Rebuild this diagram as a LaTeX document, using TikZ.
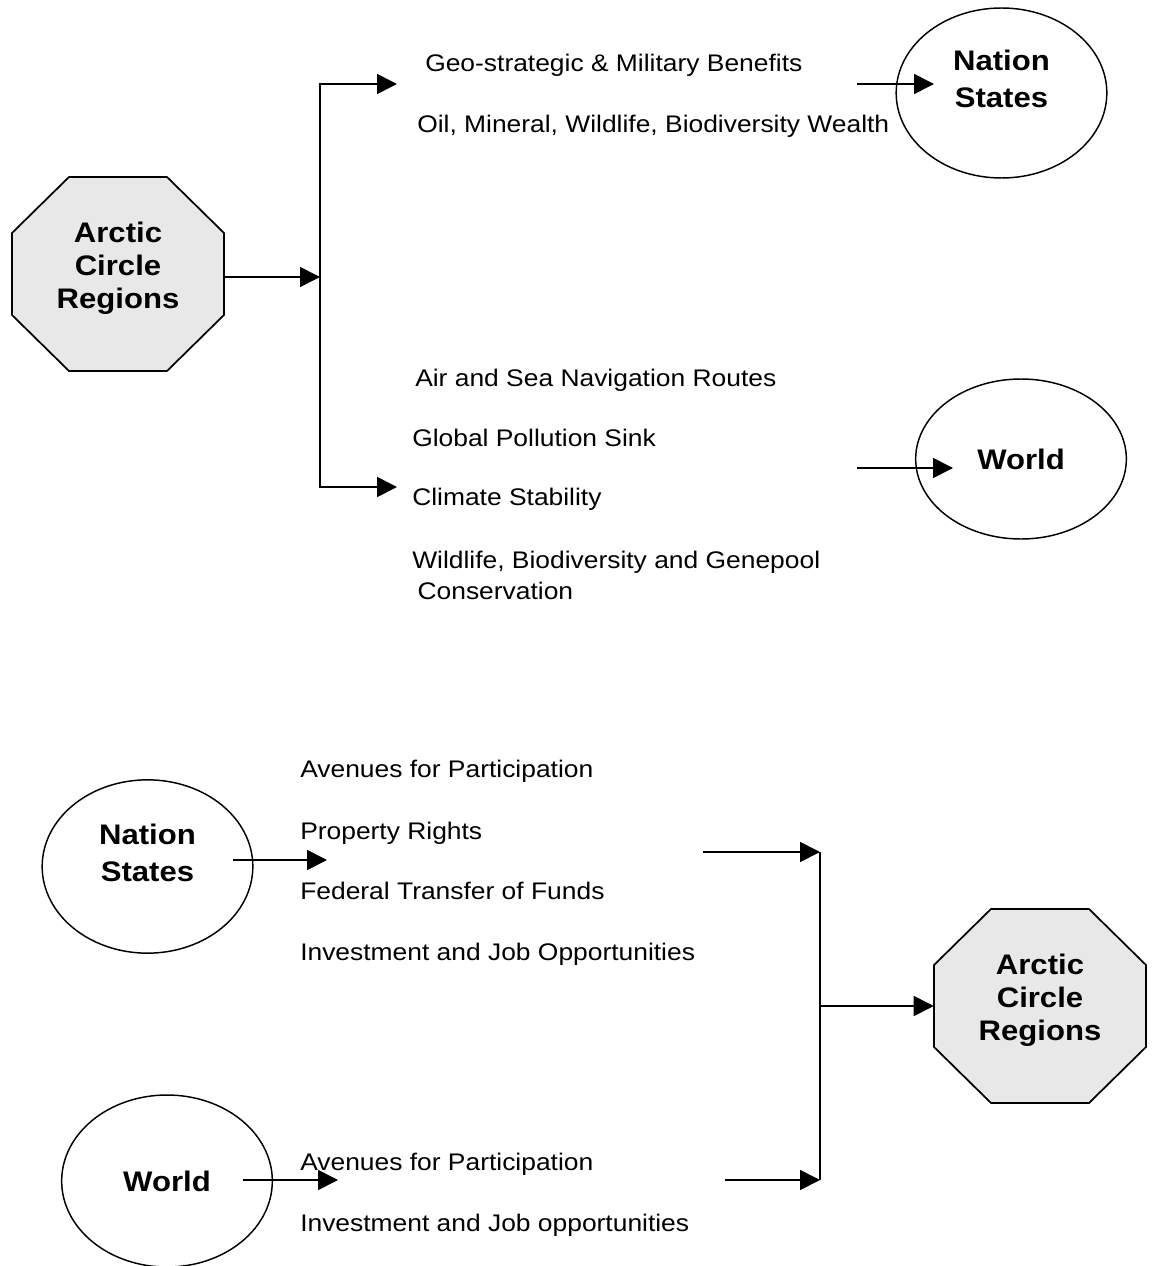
\documentclass[tikz,border=0pt]{standalone}
\usepackage{fontspec}
\setmainfont{Liberation Sans}[FakeStretch=1.1]
\usetikzlibrary{arrows.meta,shapes.geometric,backgrounds}
\definecolor{octgray}{RGB}{232,232,232}
\begin{document}
\begin{tikzpicture}[x=0.75pt,y=-0.75pt,
  conn/.style={line width=1.3pt},
  arr/.style={conn,-{Triangle[length=15pt,width=15pt]}},
  both/.style={conn,{Triangle[length=15pt,width=15pt]}-{Triangle[length=15pt,width=15pt]}},
  item/.style={anchor=base west,inner sep=0pt,font=\fontsize{18}{23.25}\selectfont},
  ttl/.style={align=center,inner sep=0pt,font=\fontsize{21.2}{27.75}\selectfont\bfseries},
  ell/.style={ttl,draw,ellipse,line width=1.1pt,minimum width=158pt},
  octnode/.style={ttl,rectangle,minimum width=159pt,minimum height=146pt,font=\fontsize{21.2}{24.75}\selectfont\bfseries},
  octfill/.style={draw,fill=octgray,line width=1.3pt},
]
\useasboundingbox (0,0) rectangle (1158,1266);

% ---------- top part ----------
\node[octnode] (oct1) at (118,274) {Arctic\\Circle\\Regions\rule[-13.5pt]{0pt}{0pt}};
\begin{scope}[on background layer]
\draw[octfill, shift={(oct1.center)}] (-49,-97) -- (49,-97) -- (106,-41) -- (106,41) -- (49,97) -- (-49,97) -- (-106,41) -- (-106,-41) -- cycle;
\end{scope}

\node[item] (g1) at (425,72) {Geo-strategic \& Military Benefits};
\node[item] (g2) at (417,133) {Oil, Mineral, Wildlife, Biodiversity Wealth};
\node[item] (w1) at (415,386) {Air and Sea Navigation Routes};
\node[item] (w2) at (412,446) {Global Pollution Sink};
\node[item] (w3) at (412,505) {Climate Stability};
\node[item,align=left,anchor=north west] (w4) at (412,551) {Wildlife, Biodiversity and Genepool\\\hspace*{4pt}Conservation};

\node[ell,minimum height=127.5pt] (ns1) at (1001.5,93) {Nation\\States\rule[-21.8pt]{0pt}{0pt}};
\node[ell,minimum height=120pt] (wd1) at (1021,459) {World};

\coordinate (j1) at (320,277);
\coordinate (t1) at (397,84);
\coordinate (t2) at (397,487);
\draw[arr] (j1 -| oct1.east) -- (j1);
\draw[both] (t1) -| (j1) |- (t2);

\coordinate (a1s) at (857,84);
\coordinate (a1e) at (934,84);
\draw[arr] (a1s) -- (a1e);
\coordinate (a2s) at (857,468);
\coordinate (a2e) at (953,468);
\draw[arr] (a2s) -- (a2e);

% ---------- bottom part ----------
\node[ell,minimum height=130pt] (ns2) at (147.5,866.5) {Nation\\States\rule[-21pt]{0pt}{0pt}};
\node[ell,minimum height=129pt] (wd2) at (167,1181) {World};

\node[item] (p1) at (300,777) {Avenues for Participation};
\node[item] (p2) at (300,839) {Property Rights};
\node[item] (p3) at (300,899) {Federal Transfer of Funds};
\node[item] (p4) at (300,960) {Investment and Job Opportunities};
\node[item] (q1) at (300,1170) {Avenues for Participation};
\node[item] (q2) at (300,1231) {Investment and Job opportunities};

\node[octnode] (oct2) at (1040,1006) {Arctic\\Circle\\Regions\rule[-13.5pt]{0pt}{0pt}};
\begin{scope}[on background layer]
\draw[octfill, shift={(oct2.center)}] (-49,-97) -- (49,-97) -- (106,-41) -- (106,41) -- (49,97) -- (-49,97) -- (-106,41) -- (-106,-41) -- cycle;
\end{scope}

\coordinate (b1s) at (233,860);
\coordinate (b1e) at (327,860);
\draw[arr] (b1s) -- (b1e);
\coordinate (d1s) at (243,1180);
\coordinate (d1e) at (338,1180);
\draw[arr] (d1s) -- (d1e);

\coordinate (k1) at (820,852);
\coordinate (k2) at (820,1180);
\coordinate (c1s) at (703,852);
\coordinate (c2s) at (725,1180);
\draw[arr] (c1s) -- (k1);
\draw[arr] (c2s) -- (k2);
\draw[conn] (k1) -- (k2);
\draw[arr] (k1 |- oct2.west) -- (oct2.west);
\end{tikzpicture}
\end{document}
